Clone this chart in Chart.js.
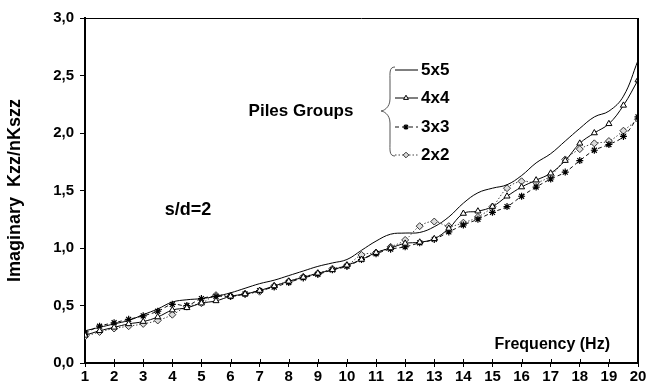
<!DOCTYPE html>
<html>
<head>
<meta charset="utf-8">
<script src="https://cdn.jsdelivr.net/npm/chart.js@4/dist/chart.umd.min.js"></script>
<style>
  html, body { margin: 0; padding: 0; background: #fff; }
  #wrap { width: 658px; height: 392px; position: relative; }
</style>
</head>
<body>
<div id="wrap"><canvas id="c" width="658" height="392"></canvas></div>
<script>
// Frequency (Hz), sampled every 0.5 Hz
const freqs = [1, 1.5, 2, 2.5, 3, 3.5, 4, 4.5, 5, 5.5, 6, 6.5, 7, 7.5, 8, 8.5, 9, 9.5, 10, 10.5,
               11, 11.5, 12, 12.5, 13, 13.5, 14, 14.5, 15, 15.5, 16, 16.5, 17, 17.5, 18, 18.5, 19, 19.5, 20];

// Imaginary part of Kzz / (n·Kszz) for each pile group, s/d = 2
const g5x5 = [0.28, 0.31, 0.34, 0.37, 0.42, 0.47, 0.53, 0.55, 0.56, 0.58, 0.61, 0.65, 0.69, 0.72, 0.76, 0.80, 0.84, 0.87, 0.90, 0.98,
              1.06, 1.12, 1.13, 1.135, 1.185, 1.27, 1.39, 1.48, 1.52, 1.55, 1.63, 1.74, 1.82, 1.93, 2.04, 2.14, 2.19, 2.32, 2.63];
const g4x4 = [0.24, 0.28, 0.31, 0.34, 0.36, 0.40, 0.46, 0.48, 0.52, 0.54, 0.58, 0.60, 0.63, 0.67, 0.71, 0.745, 0.78, 0.81, 0.85, 0.90,
              0.96, 1.00, 1.04, 1.05, 1.08, 1.17, 1.30, 1.32, 1.36, 1.45, 1.53, 1.59, 1.65, 1.76, 1.91, 2.00, 2.08, 2.24, 2.46];
const g3x3 = [0.26, 0.32, 0.35, 0.38, 0.41, 0.45, 0.51, 0.50, 0.56, 0.58, 0.58, 0.60, 0.63, 0.66, 0.70, 0.74, 0.77, 0.81, 0.84, 0.90,
              0.95, 0.99, 1.01, 1.045, 1.075, 1.14, 1.20, 1.25, 1.31, 1.36, 1.45, 1.53, 1.60, 1.66, 1.76, 1.85, 1.90, 1.97, 2.14];
const g2x2 = [0.23, 0.27, 0.30, 0.32, 0.34, 0.37, 0.42, 0.49, 0.52, 0.59, 0.58, 0.60, 0.62, 0.67, 0.71, 0.75, 0.78, 0.82, 0.85, 0.94,
              0.96, 1.01, 1.07, 1.19, 1.23, 1.19, 1.22, 1.27, 1.36, 1.52, 1.58, 1.57, 1.63, 1.77, 1.86, 1.91, 1.93, 2.02, 2.12];

const seriesNames = ['5x5', '4x4', '3x3', '2x2'];

const FONT = "'Liberation Sans', Arial, sans-serif";

function pts(vals) { return freqs.map((f, i) => ({ x: f, y: vals[i] })); }

const datasets = [
  { label: seriesNames[0], data: pts(g5x5), borderColor: '#000', borderWidth: 1,
    pointRadius: 0, borderDash: [] },
  { label: seriesNames[1], data: pts(g4x4), borderColor: '#000', borderWidth: 1,
    pointStyle: 'triangle', pointRadius: 3.5, pointBackgroundColor: '#fff', pointBorderColor: '#000', pointBorderWidth: 1, borderDash: [] },
  { label: seriesNames[2], data: pts(g3x3), borderColor: '#111', borderWidth: 1,
    pointStyle: 'star', pointRadius: 3.5, pointBackgroundColor: '#000', pointBorderColor: '#000', pointBorderWidth: 1.2, borderDash: [4, 3] },
  { label: seriesNames[3], data: pts(g2x2), borderColor: '#444', borderWidth: 1,
    pointStyle: 'rectRot', pointRadius: 3.5, pointBackgroundColor: '#ddd', pointBorderColor: '#333', pointBorderWidth: 1, borderDash: [1.5, 2] }
];
datasets.forEach(d => { d.tension = 0.4; d.fill = false; d.pointHoverRadius = d.pointRadius; });

// Frame, annotations and bracketed legend
const decor = {
  id: 'decor',
  afterDraw(chart) {
    const ctx = chart.ctx;
    const a = chart.chartArea;
    const xs = chart.scales.x;
    ctx.save();
    // top and right frame lines
    ctx.strokeStyle = '#000';
    ctx.lineWidth = 1;
    ctx.beginPath(); ctx.moveTo(a.left, a.top + 0.5); ctx.lineTo(a.right, a.top + 0.5); ctx.stroke();
    ctx.lineWidth = 2;
    ctx.beginPath(); ctx.moveTo(a.right, a.top); ctx.lineTo(a.right, a.bottom); ctx.stroke();
    // x ticks also poke slightly into the plot
    ctx.lineWidth = 1;
    xs.ticks.forEach(t => {
      const p = Math.round(xs.getPixelForValue(t.value)) + 0.5;
      ctx.beginPath(); ctx.moveTo(p, a.bottom); ctx.lineTo(p, a.bottom - 4); ctx.stroke();
    });

    ctx.fillStyle = '#000';
    ctx.textBaseline = 'middle';
    ctx.font = 'bold 16px ' + FONT;
    ctx.textAlign = 'right';
    ctx.fillText('Frequency (Hz)', 610, 345);

    ctx.font = 'bold 18px ' + FONT;
    ctx.textAlign = 'center';
    ctx.fillText('s/d=2', 188, 210);
    ctx.font = 'bold 17px ' + FONT;
    ctx.fillText('Piles Groups', 301, 111);

    // curly brace
    ctx.strokeStyle = '#555';
    ctx.lineWidth = 1;
    const bx = 391, yt = 67, yb = 156, ym = 111, px = 381;
    ctx.beginPath();
    ctx.moveTo(bx + 4, yt);
    ctx.bezierCurveTo(bx - 2, yt, bx - 1, yt + 6, bx - 1, yt + 14);
    ctx.lineTo(bx - 1, ym - 12);
    ctx.bezierCurveTo(bx - 1, ym - 3, px + 2, ym, px, ym);
    ctx.bezierCurveTo(px + 2, ym, bx - 1, ym + 3, bx - 1, ym + 12);
    ctx.lineTo(bx - 1, yb - 14);
    ctx.bezierCurveTo(bx - 1, yb - 6, bx - 2, yb, bx + 4, yb);
    ctx.stroke();

    // legend rows
    const rows = [70, 98, 127, 155];
    chart.data.datasets.forEach((ds, i) => {
      const y = rows[i];
      ctx.strokeStyle = ds.borderColor;
      ctx.lineWidth = 1;
      ctx.setLineDash(ds.borderDash || []);
      ctx.beginPath(); ctx.moveTo(395, y); ctx.lineTo(418, y); ctx.stroke();
      ctx.setLineDash([]);
      if (ds.pointRadius > 0) {
        ctx.fillStyle = ds.pointBackgroundColor;
        ctx.strokeStyle = ds.pointBorderColor;
        ctx.lineWidth = ds.pointBorderWidth;
        Chart.helpers.drawPoint(ctx, { pointStyle: ds.pointStyle, radius: 2.8, borderWidth: ds.pointBorderWidth, rotation: 0 }, 406, y);
      }
      ctx.fillStyle = '#000';
      ctx.font = 'bold 17px ' + FONT;
      ctx.textAlign = 'left';
      ctx.fillText(ds.label, 421, y);
    });
    ctx.restore();
  }
};

new Chart(document.getElementById('c'), {
  type: 'line',
  data: { datasets },
  plugins: [decor],
  options: {
    responsive: false,
    animation: false,
    events: [],
    layout: { padding: { top: 18, right: 20, left: 0, bottom: 0 } },
    plugins: { legend: { display: false }, tooltip: { enabled: false } },
    scales: {
      x: {
        type: 'linear', min: 1, max: 20,
        ticks: { stepSize: 1, color: '#000', font: { family: FONT, weight: 'bold', size: 15 }, padding: 1, maxRotation: 0 },
        grid: { drawOnChartArea: false, color: '#000', tickLength: 4, lineWidth: 1 },
        border: { color: '#000', width: 2 },
        afterFit(s) { s.height = 29; }
      },
      y: {
        min: 0, max: 3,
        ticks: { stepSize: 0.5, color: '#000', font: { family: FONT, weight: 'bold', size: 15 }, padding: 6,
                 callback: v => v.toFixed(1).replace('.', ',') },
        grid: { drawOnChartArea: false, color: '#000', tickLength: 5, lineWidth: 1 },
        border: { color: '#000', width: 2 },
        title: { display: true, text: 'Imaginary  Kzz/nKszz', color: '#000',
                 font: { family: FONT, weight: 'bold', size: 18 }, padding: { top: 4, bottom: 0 } },
        afterFit(s) { s.width = 85; }
      }
    }
  }
});
</script>
</body>
</html>
